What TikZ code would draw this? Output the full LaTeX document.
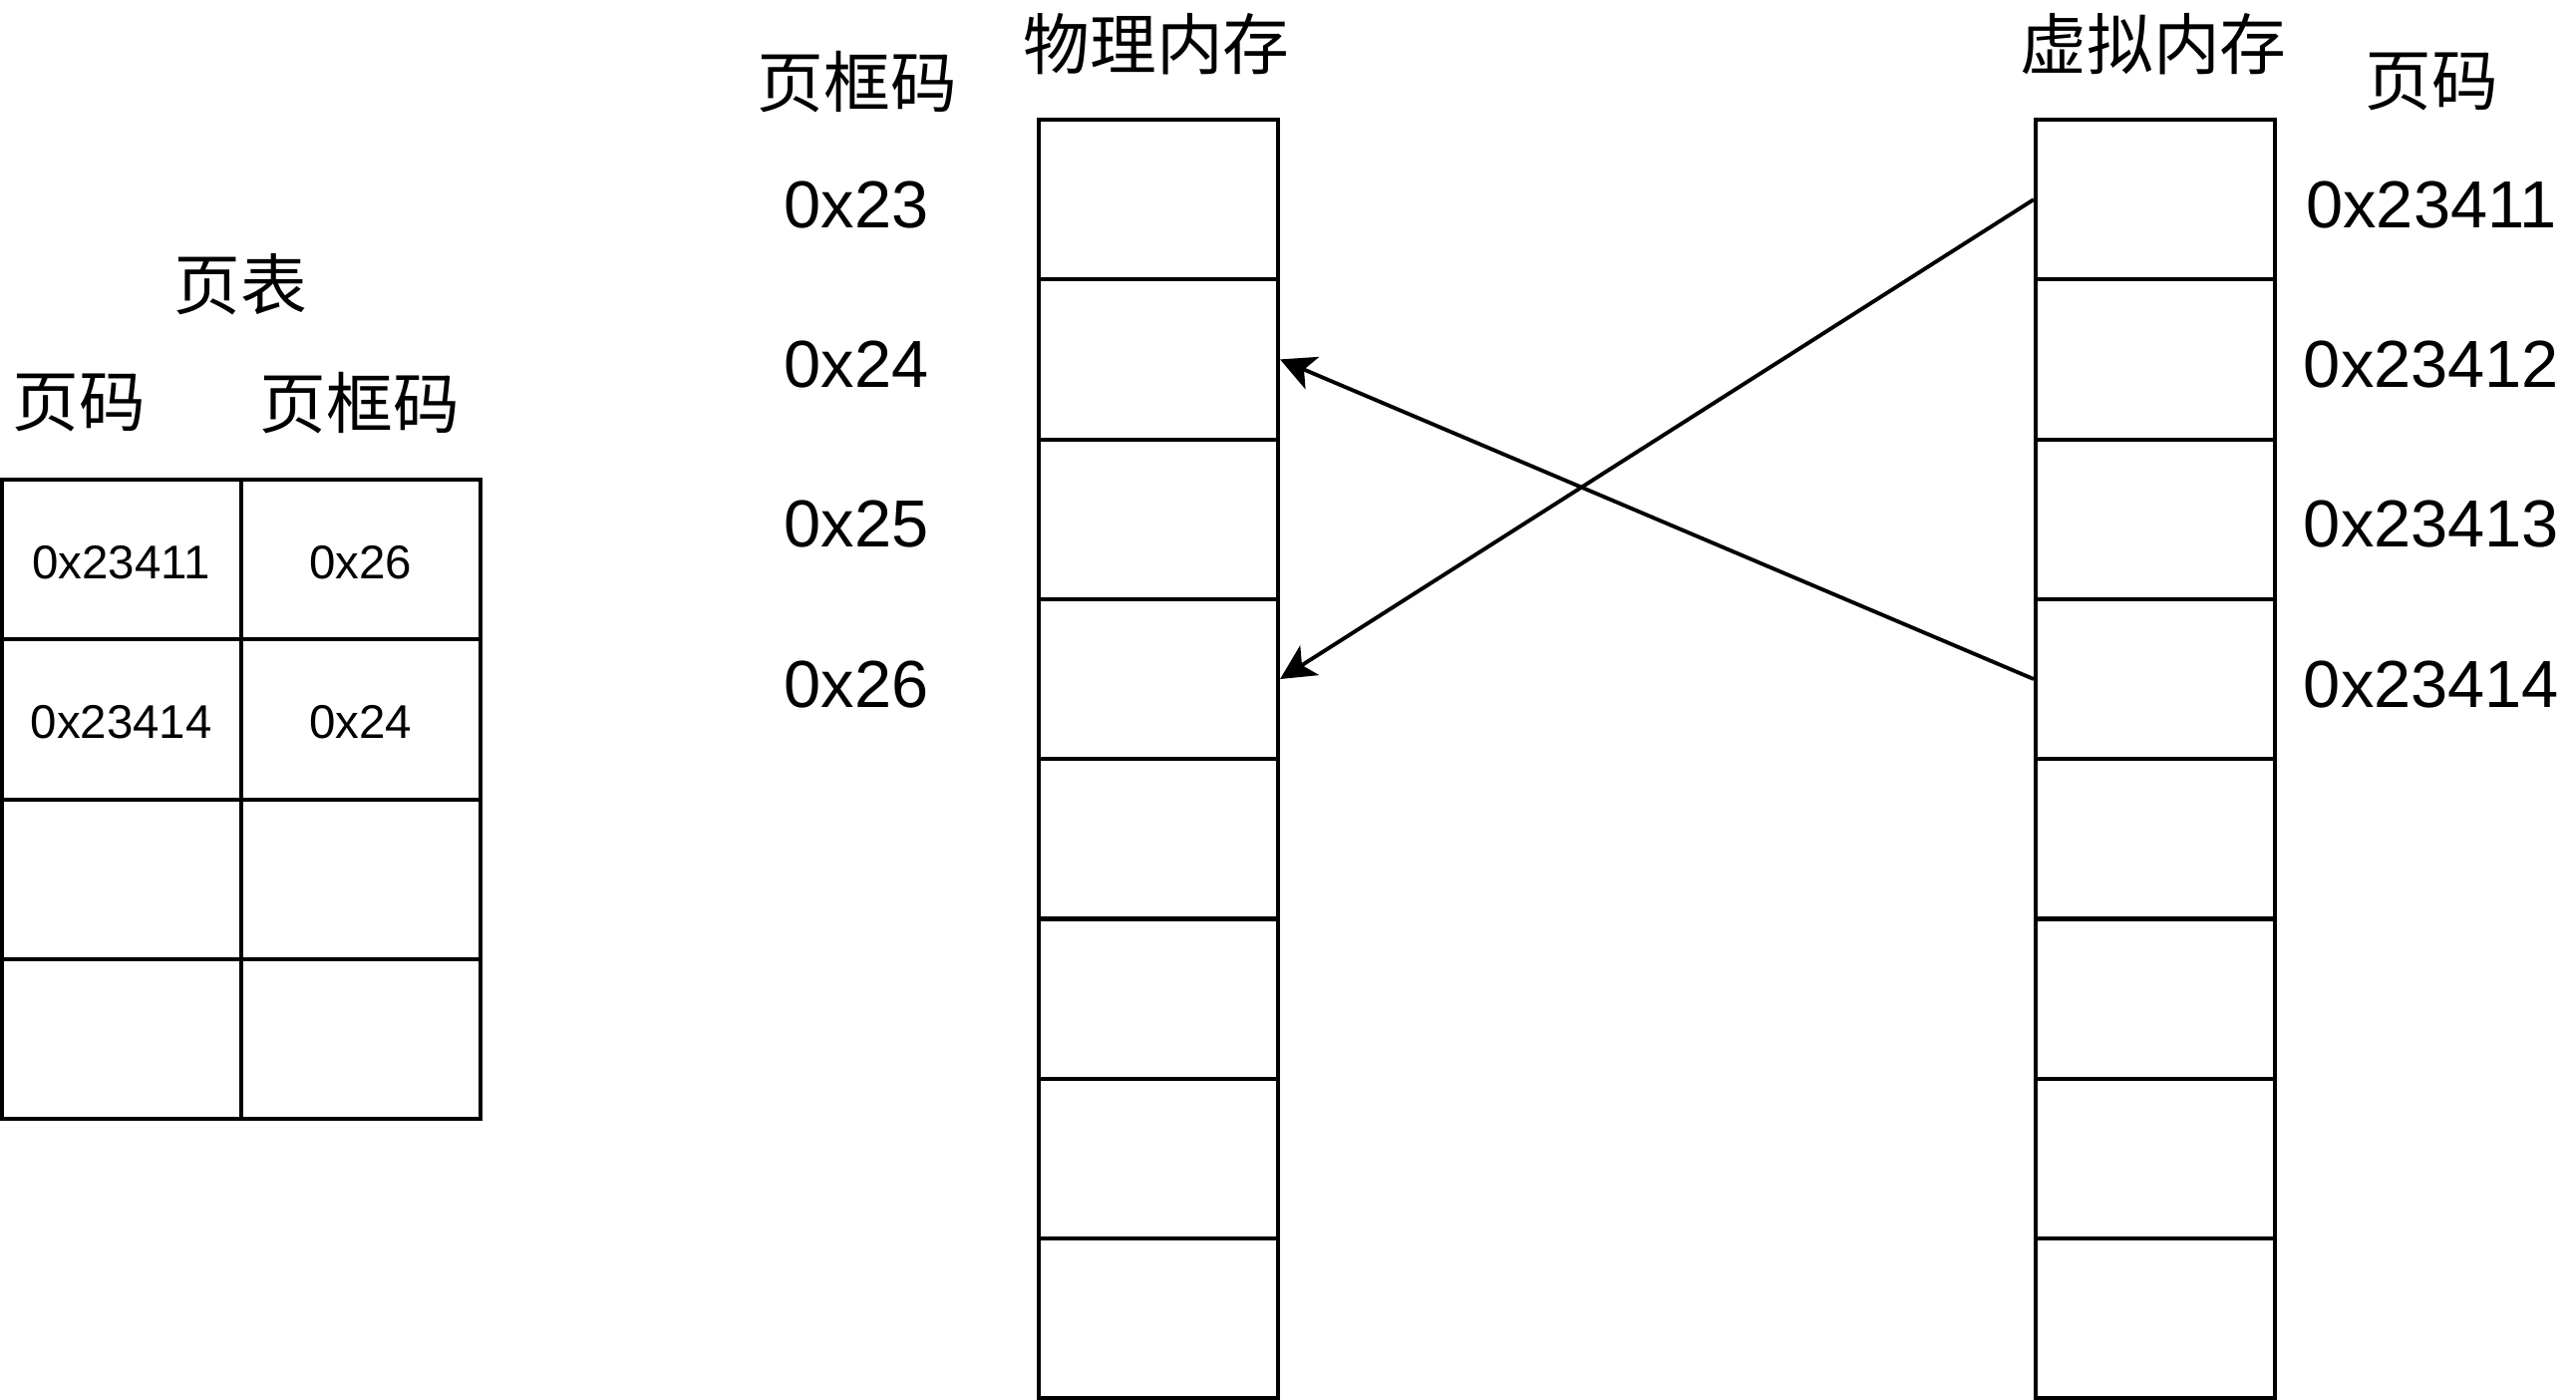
\documentclass[tikz,border=0pt]{standalone}
\usepackage{fontspec}
\setmainfont{Liberation Sans}
\newfontfamily\cjk{Noto Sans CJK SC}
\usetikzlibrary{arrows.meta, positioning}

\begin{document}
\begin{tikzpicture}[
        cell/.style={draw, line width=1.15pt, minimum width=2.4cm, minimum height=1.603cm, inner sep=0pt},
        bigtxt/.style={font=\fontsize{19}{23}\selectfont},
        cntxt/.style={font=\cjk\fontsize{19}{23}\selectfont},
        smalltxt/.style={font=\fontsize{13.5}{16}\selectfont},
        maparrow/.style={-{Stealth[length=0.35cm, width=0.35cm, inset=0.09cm]}, line width=1.1pt}
    ]
        % Define dimensions
        \def\cellh{1.603}
        \def\toprow{12.84}
        \def\tabletop{9.23}
        \useasboundingbox (0,0) rectangle (25.84,14.04);
        % Draw physical and virtual memory columns
        \foreach \i in {1,...,8} {
            \node[cell] (pm\i) at (11.62, {\toprow-(\i-0.5)*\cellh}) {};
            \node[cell] (vm\i) at (21.62, {\toprow-(\i-0.5)*\cellh}) {};
        }
        \node[cntxt] (pmtitle) at (11.6, 13.595) {物理内存};
        \node[cntxt] (vmtitle) at (21.6, 13.595) {虚拟内存};
        \node[cntxt] (pfhead) at (8.6, 13.22) {页框码};
        \node[cntxt] (vphead) at (24.39, 13.22) {页码};
        % Frame numbers and page numbers
        \foreach \i/\f in {1/23, 2/24, 3/25, 4/26}
            \node[bigtxt] (pf\i) at ([xshift=-3.03cm, yshift=-0.05cm]pm\i.center) {0x\f};
        \foreach \i in {1,...,4}
            \node[bigtxt] (vp\i) at ([xshift=2.77cm, yshift=-0.05cm]vm\i.center) {0x2341\i};
        % Draw page table on the left
        \foreach \r in {1,...,4} {
            \node[cell] (ptp\r) at (1.217, {\tabletop-(\r-0.5)*\cellh}) {};
            \node[cell] (ptf\r) at (3.617, {\tabletop-(\r-0.5)*\cellh}) {};
        }
        \node[cntxt] (pthead) at (2.41, 11.19) {页表};
        \node[cntxt] (ptpcol) at (0.79, 10.0) {页码};
        \node[cntxt] (ptfcol) at (3.61, 10.0) {页框码};
        \node[smalltxt] (ptxtp1) at ([yshift=-0.03cm]ptp1.center) {0x23411};
        \node[smalltxt] (ptxtf1) at ([yshift=-0.03cm]ptf1.center) {0x26};
        \node[smalltxt] (ptxtp2) at ([yshift=-0.03cm]ptp2.center) {0x23414};
        \node[smalltxt] (ptxtf2) at ([yshift=-0.03cm]ptf2.center) {0x24};
        % Mapping arrows
        \draw[maparrow] (vm4.west) -- (pm2.east);
        \draw[maparrow] (vm1.west) -- (pm4.east);
    \end{tikzpicture}
\end{document}
